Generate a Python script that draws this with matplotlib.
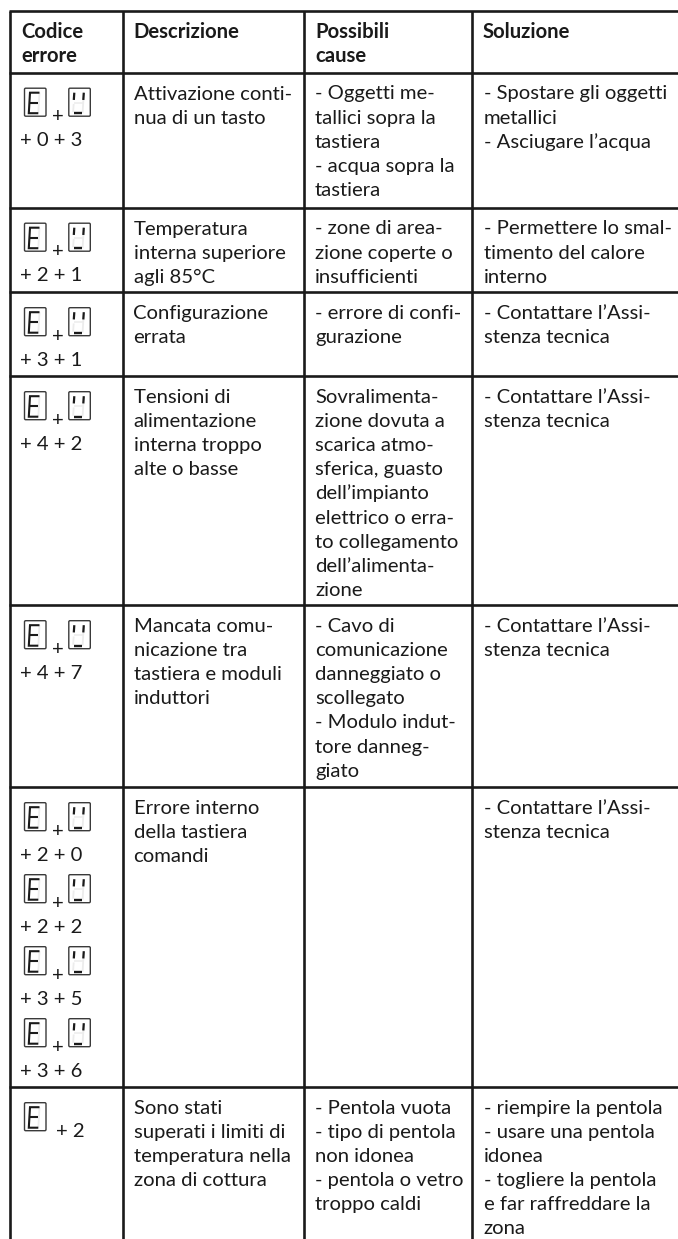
import matplotlib
matplotlib.use("Agg")
import matplotlib.pyplot as plt
from matplotlib.patches import FancyBboxPatch

W, H = 678, 1239

headers = ["Codice\nerrore", "Descrizione", "Possibili\ncause", "Soluzione"]

descrizione = [
    "Attivazione conti-\nnua di un tasto",
    "Temperatura\ninterna superiore\nagli 85°C",
    "Configurazione\nerrata",
    "Tensioni di\nalimentazione\ninterna troppo\nalte o basse",
    "Mancata comu-\nnicazione tra\ntastiera e moduli\ninduttori",
    "Errore interno\ndella tastiera\ncomandi",
    "Sono stati\nsuperati i limiti di\ntemperatura nella\nzona di cottura",
]
cause = [
    "- Oggetti me-\ntallici sopra la\ntastiera\n- acqua sopra la\ntastiera",
    "- zone di area-\nzione coperte o\ninsufficienti",
    "- errore di confi-\ngurazione",
    "Sovralimenta-\nzione dovuta a\nscarica atmo-\nsferica, guasto\ndell’impianto\nelettrico o erra-\nto collegamento\ndell’alimenta-\nzione",
    "- Cavo di\ncomunicazione\ndanneggiato o\nscollegato\n- Modulo indut-\ntore danneg-\ngiato",
    "",
    "- Pentola vuota\n- tipo di pentola\nnon idonea\n- pentola o vetro\ntroppo caldi",
]
soluzione = [
    "- Spostare gli oggetti\nmetallici\n- Asciugare l’acqua",
    "- Permettere lo smal-\ntimento del calore\ninterno",
    "- Contattare l’Assi-\nstenza tecnica",
    "- Contattare l’Assi-\nstenza tecnica",
    "- Contattare l’Assi-\nstenza tecnica",
    "- Contattare l’Assi-\nstenza tecnica",
    "- riempire la pentola\n- usare una pentola\nidonea\n- togliere la pentola\ne far raffreddare la\nzona",
]
codici = [["+ 0 + 3"], ["+ 2 + 1"], ["+ 3 + 1"], ["+ 4 + 2"], ["+ 4 + 7"],
          ["+ 2 + 0", "+ 2 + 2", "+ 3 + 5", "+ 3 + 6"], ["+ 2"]]

col_x = [10, 122.5, 304, 472]
row_y = [11, 72.5, 207.5, 292, 376, 605, 787, 1087]

FONT = "Lato"
FS = 14.6
INK = "#1a1a1a"
STEP = 24.1

fig = plt.figure(figsize=(W / 100, H / 100), dpi=100)
ax = fig.add_axes([0, 0, 1, 1])
ax.set_xlim(0, W)
ax.set_ylim(H, 0)
ax.axis("off")


def put(x, y, s, **kw):
    for n, riga in enumerate(s.split("\n")):
        ax.text(x, y + n * STEP, riga, family=FONT, fontsize=FS, va="baseline", ha="left",
                color=INK, **kw)


def seg(xs, ys, c=INK, lw=1.5):
    ax.plot(xs, ys, color=c, lw=lw, solid_capstyle="butt", solid_joinstyle="miter")


def display(x, y, letter):
    # display a 7 segmenti, il resto dei segmenti resta appena visibile
    ax.add_patch(FancyBboxPatch((x, y), 21.5, 28, boxstyle="round,pad=0,rounding_size=1.2",
                                fc="white", ec="#3a3a3a", lw=1.0))
    l, r, t, b = x + 5.5, x + 15, y + 4.5, y + 25
    m = (t + b) / 2
    seg([r, r - 1.2], [t, b], "#ececec", 1.3)
    if letter == "E":
        seg([r, l, l - 1.2, r - 1.2], [t, t, b, b])
        seg([l - 0.6, r - 1.5], [m, m])
    else:
        seg([l - 0.6, l - 1.2], [m + 1, b - 1], "#ececec", 1.3)
        seg([l - 0.4, r - 0.6], [m, m], "#ececec", 1.1)
        seg([l, l - 0.5], [t, m - 3], INK, 1.6)
        seg([r, r - 0.5], [t, m - 3], INK, 1.6)
        seg([l - 0.5, r - 2], [b, b], INK, 1.7)


def codice(y, testo):
    display(24.5, y, "E")
    if testo == "+ 2":
        put(56.5, y + 34, testo)
        return
    ax.text(57.5, y + 34, "+", family=FONT, fontsize=FS, ha="center", va="baseline", color=INK)
    display(68.8, y, "U")
    put(20.5, y + 58, testo)


# griglia: a destra le righe arrivano al bordo, senza riga verticale finale
for x in col_x:
    ax.plot([x, x], [row_y[0], H], color=INK, lw=1.9, solid_capstyle="butt")
for y in row_y:
    ax.plot([col_x[0] - 1, W], [y, y], color=INK, lw=1.9, solid_capstyle="butt")

for j, h in enumerate(headers):
    put(col_x[j] + 11, 37.5, h, fontweight="bold")

for i in range(7):
    top = row_y[i + 1]
    put(col_x[1] + 11, top + 27, descrizione[i])
    put(col_x[2] + 11, top + 27, cause[i])
    put(col_x[3] + 11.5, top + 27, soluzione[i])
    for k, t in enumerate(codici[i]):
        codice(top + 15.7 + k * 72, t)

fig.savefig("out.png", dpi=100)
